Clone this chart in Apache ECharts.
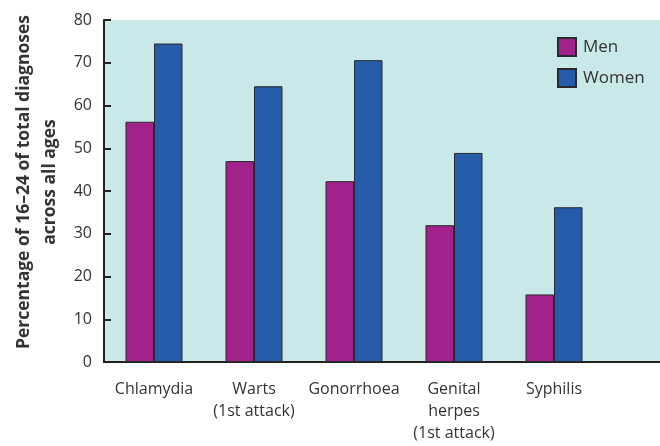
<!DOCTYPE html>
<html>
<head>
<meta charset="utf-8">
<script src="https://cdn.jsdelivr.net/npm/echarts@6/dist/echarts.min.js"></script>
<style>html,body{margin:0;padding:0;background:#fff}#c{width:660px;height:446px}</style>
</head>
<body>
<div id="c"></div>
<script>
const categories = ['Chlamydia', 'Warts\n(1st attack)', 'Gonorrhoea', 'Genital\nherpes\n(1st attack)', 'Syphilis'];
const menValues = [56.2, 47, 42.3, 32, 15.8];
const womenValues = [74.5, 64.5, 70.6, 48.9, 36.2];
const yTicks = [0, 10, 20, 30, 40, 50, 60, 70, 80];

const FONT = '"Open Sans", "Noto Sans", sans-serif';
const chart = echarts.init(document.getElementById('c'), null, {renderer: 'canvas'});
chart.setOption({
  animation: false,
  backgroundColor: '#fff',
  textStyle: {fontFamily: FONT},
  graphic: [
    {type: 'rect', z: -10, shape: {x: 104, y: 20, width: 556, height: 342}, style: {fill: '#C9E8E9'}},
    {type: 'line', z: 10, shape: {x1: 604, y1: 362, x2: 660, y2: 362}, style: {stroke: '#222', lineWidth: 2}}
  ],
  grid: {left: 104, right: 56, top: 20, bottom: 84, containLabel: false, outerBoundsMode: 'none'},
  legend: {
    orient: 'vertical', left: 552, top: 32, itemWidth: 18, itemHeight: 18, itemGap: 11,
    icon: 'rect',
    textStyle: {fontSize: 17, color: '#333', fontFamily: FONT, padding: [0, 0, 0, 2]},
    data: ['Men', 'Women']
  },
  xAxis: {
    type: 'category', data: categories,
    axisLine: {lineStyle: {color: '#222', width: 2}},
    axisTick: {show: false},
    axisLabel: {fontSize: 16, color: '#333', lineHeight: 22, margin: 16, interval: 0, fontFamily: FONT}
  },
  yAxis: {
    type: 'value', min: yTicks[0], max: yTicks[yTicks.length - 1], interval: 10,
    name: 'Percentage of 16–24 of total diagnoses\nacross all ages',
    nameLocation: 'middle', nameRotate: 90, nameGap: 41,
    nameTextStyle: {fontSize: 17.5, fontWeight: 'bold', color: '#333', lineHeight: 26, fontFamily: FONT, padding: [0, 0, 0, 18]},
    splitLine: {show: false},
    axisLine: {show: true, lineStyle: {color: '#222', width: 2}},
    axisTick: {show: true, inside: true, length: 7, lineStyle: {color: '#222', width: 2}},
    axisLabel: {fontSize: 16, color: '#333', margin: 12, fontFamily: FONT}
  },
  series: [
    {name: 'Men', type: 'bar', data: menValues, barGap: '0%', barCategoryGap: '43%',
     itemStyle: {color: '#A2218B', borderColor: '#2a2a2a', borderWidth: 1}},
    {name: 'Women', type: 'bar', data: womenValues,
     itemStyle: {color: '#265BA9', borderColor: '#2a2a2a', borderWidth: 1}}
  ]
});
</script>
</body>
</html>
